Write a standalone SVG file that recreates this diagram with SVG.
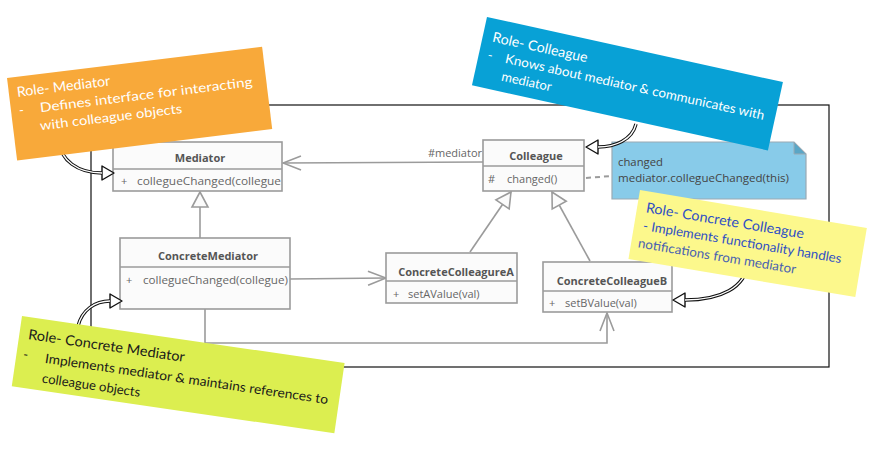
<svg xmlns="http://www.w3.org/2000/svg" width="884" height="452" viewBox="0 0 884 452">
<style>
.frame{fill:none;stroke:#111;stroke-width:1.2}
.box{fill:#fbfbfb;stroke:#9b9b9b;stroke-width:1.6}
.sep{stroke:#9b9b9b;stroke-width:1.4}
.conn{fill:none;stroke:#9b9b9b;stroke-width:1.6}
.dash{fill:none;stroke:#9b9b9b;stroke-width:2;stroke-dasharray:5,4}
.title{font-family:"Open Sans","Noto Sans",sans-serif;font-size:11px;font-weight:bold;fill:#555;text-anchor:middle}
.mem{font-family:"Open Sans","Noto Sans",sans-serif;font-size:11px;fill:#666}
.lbl{font-family:"Open Sans","Noto Sans",sans-serif;font-size:11px;fill:#666}
.ntxt{font-family:"Open Sans","Noto Sans",sans-serif;font-size:11px;fill:#444}
.skout{fill:none;stroke:#111;stroke-width:3.4}
.skin{fill:none;stroke:#fff;stroke-width:1.4}
.rt{font-family:Lato,"Noto Sans",sans-serif;font-size:14px}
.rb{font-family:Lato,"Noto Sans",sans-serif;font-size:13px}
</style>
<defs>
<marker id="open" markerUnits="userSpaceOnUse" markerWidth="22" markerHeight="18" viewBox="-20 -9 22 18" refX="0" refY="0" orient="auto">
<path d="M-18,-7 L0,0 L-18,7" fill="none" stroke="#9b9b9b" stroke-width="1.6"/>
</marker>
<marker id="tri" markerUnits="userSpaceOnUse" markerWidth="20" markerHeight="20" viewBox="-17 -10 19 20" refX="0" refY="0" orient="auto">
<path d="M0,0 L-15,-8 L-15,8 Z" fill="#fbfbfb" stroke="#9b9b9b" stroke-width="1.6"/>
</marker>
<marker id="sk" markerUnits="userSpaceOnUse" markerWidth="16" markerHeight="18" viewBox="-2 -9 16 18" refX="0" refY="0" orient="auto">
<path d="M0,-7 L12,0 L0,7 Z" fill="#fff" stroke="#111" stroke-width="1.4" stroke-linejoin="round"/>
</marker>
</defs>

<rect class="frame" x="91" y="105" width="738" height="262"/>

<g id="connectors">
<path class="conn" d="M483,162 L283,163" marker-end="url(#open)"/>
<path class="conn" d="M200,238 L200,192" marker-end="url(#tri)"/>
<path class="conn" d="M470,252 L511,192" marker-end="url(#tri)"/>
<path class="conn" d="M590,261 L552,192" marker-end="url(#tri)"/>
<path class="conn" d="M290,279 L386,278" marker-end="url(#open)"/>
<path class="conn" d="M205,309 L205,343 L607,343 L607,313" marker-end="url(#open)"/>
<path class="dash" d="M586,178 L612,176"/>
<text class="lbl" x="482" y="157" text-anchor="end">#mediator</text>
</g>

<g id="Mediator">
<rect class="box" x="113" y="142" width="169" height="49"/>
<line class="sep" x1="113" y1="169" x2="282" y2="169"/>
<text class="title" x="200" y="162">Mediator</text>
<text class="mem" x="121" y="185">+</text>
<text class="mem" x="137" y="185" textLength="144" lengthAdjust="spacingAndGlyphs">collegueChanged(collegue</text>
</g>

<g id="ConcreteMediator">
<rect class="box" x="120" y="238" width="170" height="71"/>
<line class="sep" x1="120" y1="267" x2="290" y2="267"/>
<text class="title" x="208" y="260">ConcreteMediator</text>
<text class="mem" x="126" y="284">+</text>
<text class="mem" x="143" y="284" textLength="145" lengthAdjust="spacingAndGlyphs">collegueChanged(collegue)</text>
</g>

<g id="Colleague">
<rect class="box" x="483" y="140" width="101" height="51"/>
<line class="sep" x1="483" y1="166" x2="584" y2="166"/>
<text class="title" x="536" y="160">Colleague</text>
<text class="mem" x="488" y="183">#</text>
<text class="mem" x="507" y="183">changed()</text>
</g>

<g id="ConcreteColleagureA">
<rect class="box" x="386" y="253" width="131" height="50"/>
<line class="sep" x1="386" y1="281" x2="517" y2="281"/>
<text class="title" x="456" y="276">ConcreteColleagureA</text>
<text class="mem" x="393" y="298">+</text>
<text class="mem" x="408" y="298">setAValue(val)</text>
</g>

<g id="ConcreteColleagueB">
<rect class="box" x="543" y="262" width="129" height="50"/>
<line class="sep" x1="543" y1="291" x2="672" y2="291"/>
<text class="title" x="612" y="285">ConcreteColleagueB</text>
<text class="mem" x="549" y="307">+</text>
<text class="mem" x="565" y="307">setBValue(val)</text>
</g>

<g id="note">
<path d="M612,142 L794,142 L806,154 L806,199 L612,199 Z" fill="#88cbe9" stroke="#9aaab4" stroke-width="1.2"/>
<path d="M794,142 L794,154 L806,154 Z" fill="#5aa6c6" stroke="#9aaab4" stroke-width="1"/>
<text class="ntxt" x="618" y="166" textLength="45" lengthAdjust="spacingAndGlyphs">changed</text>
<text class="ntxt" x="618" y="182" textLength="171" lengthAdjust="spacingAndGlyphs">mediator.collegueChanged(this)</text>
</g>

<g id="note-arrows">
<path class="skout" d="M60,142 C60,160 78,173 102,173" marker-end="url(#sk)"/>
<path class="skin" d="M60,142 C60,160 78,173 102,173"/>
<path class="skout" d="M636,124 C632,140 615,147 598,147" marker-end="url(#sk)"/>
<path class="skin" d="M636,124 C632,140 615,147 598,147"/>
<path class="skout" d="M748,262 C746,288 720,300 685,300" marker-end="url(#sk)"/>
<path class="skin" d="M748,262 C746,288 720,300 685,300"/>
<path class="skout" d="M78,326 C82,310 95,301 110,301" marker-end="url(#sk)"/>
<path class="skin" d="M78,326 C82,310 95,301 110,301"/>
</g>

<g id="role-mediator" transform="translate(7,78) rotate(-7)">
<rect x="0" y="0" width="257" height="83" fill="#f8a93a"/>
<text class="rt" x="8" y="20" fill="#fff" textLength="94" lengthAdjust="spacingAndGlyphs">Role- Mediator</text>
<text class="rb" x="8" y="38" fill="#fff">-</text>
<text class="rb" x="29" y="38" fill="#fff" textLength="214" lengthAdjust="spacingAndGlyphs">Defines interface for interacting</text>
<text class="rb" x="27" y="56" fill="#fff" textLength="143" lengthAdjust="spacingAndGlyphs">with colleague objects</text>
</g>

<g id="role-colleague" transform="translate(487,17) rotate(12.4)">
<rect x="0" y="0" width="303" height="70" fill="#08a1d6"/>
<text class="rt" x="10" y="23" fill="#fff" textLength="97" lengthAdjust="spacingAndGlyphs">Role- Colleague</text>
<text class="rb" x="9" y="41" fill="#fff">-</text>
<text class="rb" x="27" y="41" fill="#fff" textLength="265" lengthAdjust="spacingAndGlyphs">Knows about mediator &amp; communicates with</text>
<text class="rb" x="27" y="59" fill="#fff" textLength="51" lengthAdjust="spacingAndGlyphs">mediator</text>
</g>

<g id="role-concrete-colleague" transform="translate(640,190) rotate(9.5)">
<rect x="0" y="0" width="230" height="70" fill="#fcf88c"/>
<text class="rt" x="9" y="21" fill="#2f4fc4" textLength="160" lengthAdjust="spacingAndGlyphs">Role- Concrete Colleague</text>
<text class="rb" x="9" y="39" fill="#2f4fc4" textLength="201" lengthAdjust="spacingAndGlyphs">- Implements functionality handles</text>
<text class="rb" x="7" y="57" fill="#4a62b0" textLength="160" lengthAdjust="spacingAndGlyphs">notifications from mediator</text>
</g>

<g id="role-concrete-mediator" transform="translate(22,316) rotate(8.3)">
<rect x="0" y="0" width="326" height="71" fill="#dcee50"/>
<text class="rt" x="9" y="22" fill="#1a1a1a" textLength="158" lengthAdjust="spacingAndGlyphs">Role- Concrete Mediator</text>
<text class="rb" x="7" y="42" fill="#1a1a1a">-</text>
<text class="rb" x="29" y="43" fill="#1a1a1a" textLength="286" lengthAdjust="spacingAndGlyphs">Implements mediator &amp; maintains references to</text>
<text class="rb" x="29" y="63" fill="#1a1a1a" textLength="99" lengthAdjust="spacingAndGlyphs">colleague objects</text>
</g>
</svg>
